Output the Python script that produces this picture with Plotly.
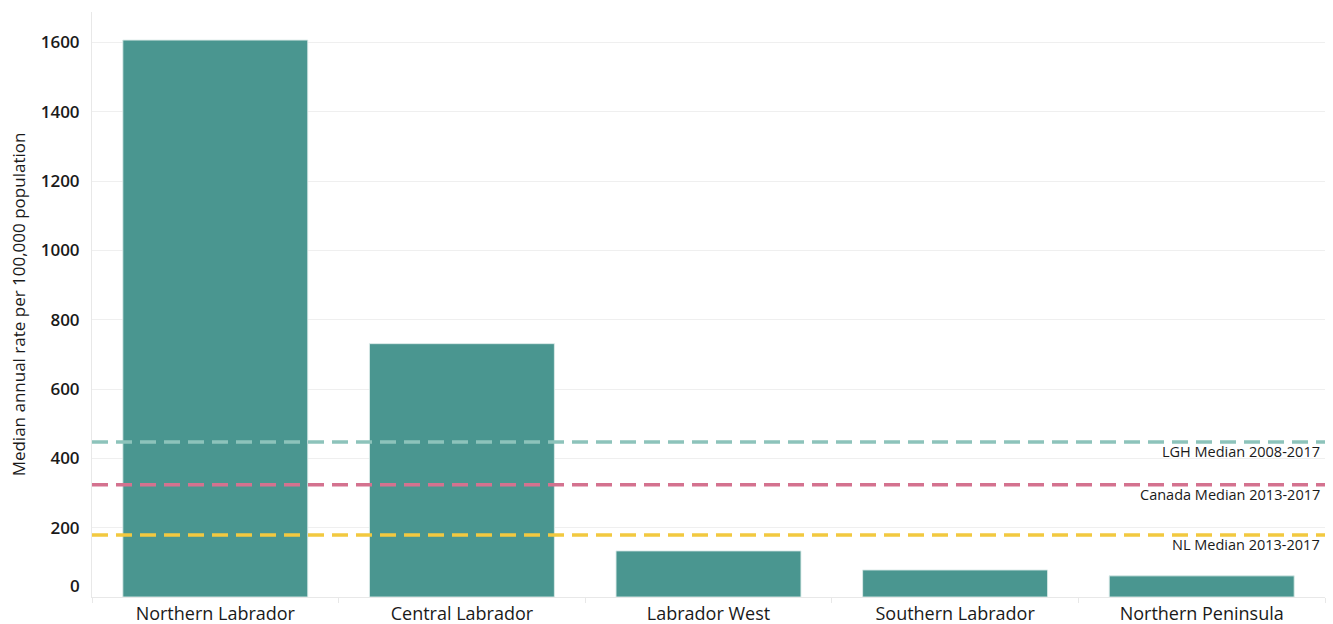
import plotly.graph_objects as go

categories = ["Northern Labrador", "Central Labrador", "Labrador West", "Southern Labrador", "Northern Peninsula"]
rates = [1607, 731, 133, 78, 61]

ref_names = ["LGH Median 2008-2017", "Canada Median 2013-2017", "NL Median 2013-2017"]
ref_values = [447, 324, 179]
ref_colors = ["#8DC3BB", "#D4728F", "#F2C940"]

tick_vals = [0, 200, 400, 600, 800, 1000, 1200, 1400, 1600]
tick_text = ["", "200", "400", "600", "800", "1000", "1200", "1400", "1600"]

fig = go.Figure()
fig.add_trace(go.Bar(
    x=categories, y=rates,
    marker=dict(color="#4A9690", line=dict(color="rgba(220,235,233,0.9)", width=1)),
    showlegend=False,
))

for name, val, col in zip(ref_names, ref_values, ref_colors):
    fig.add_shape(type="line", xref="paper", yref="y", x0=0, x1=1, y0=val, y1=val,
                  line=dict(color=col, width=3.5, dash="16px,8px"), layer="above")
    fig.add_annotation(xref="paper", yref="y", x=1, y=val, text=name, showarrow=False,
                       xanchor="right", yanchor="top", xshift=-3, yshift=2,
                       font=dict(family="Open Sans", size=14.5, color="#1a1a1a"))

# zero tick label drawn slightly raised as in the reference
fig.add_annotation(xref="paper", yref="y", x=0, y=0, text="0", showarrow=False,
                   xanchor="right", yanchor="middle", xshift=-10, yshift=12,
                   font=dict(family="Open Sans", size=17, color="#1a1a1a", weight=600))

fig.update_layout(
    width=1333, height=624,
    margin=dict(l=92, r=8, t=12, b=27),
    paper_bgcolor="white", plot_bgcolor="white",
    bargap=0.25,
    font=dict(family="Open Sans", color="#1a1a1a"),
)
fig.update_xaxes(
    automargin=False,
    showgrid=False, showline=True, linecolor="#e8e8e8", linewidth=1,
    ticks="outside", tickson="boundaries", ticklen=5, tickcolor="#e8e8e8",
    tickfont=dict(family="Open Sans", size=18, color="#1a1a1a"),
)
fig.update_yaxes(
    automargin=False,
    range=[0, 1688], tickvals=tick_vals, ticktext=tick_text,
    showgrid=True, gridcolor="#efefef", gridwidth=1,
    showline=True, linecolor="#e8e8e8", zeroline=False,
    ticks="", ticklabelstandoff=8,
    tickfont=dict(family="Open Sans", size=17, color="#1a1a1a", weight=600),
    title=dict(text="Median annual rate per 100,000 population",
               font=dict(family="Open Sans", size=17, color="#1a1a1a"), standoff=10),
)

fig.write_html("out.html")
